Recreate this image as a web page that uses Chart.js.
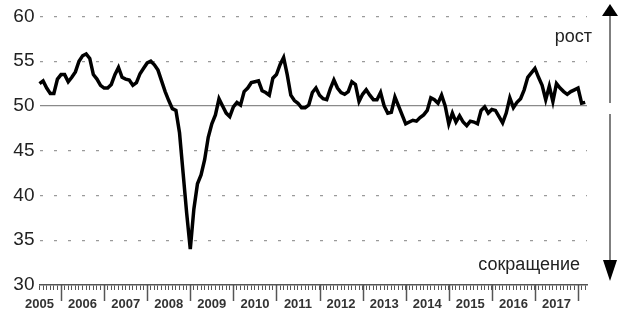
<!DOCTYPE html>
<html>
<head>
<meta charset="utf-8">
<script src="https://cdn.jsdelivr.net/npm/chart.js@4.4.1/dist/chart.umd.min.js"></script>
<style>
  html, body { margin: 0; padding: 0; background: #fff; }
</style>
</head>
<body>
<canvas id="pmiChart" width="640" height="322"></canvas>
<script>
// months are counted from Jan 2006 = 0, so the series starts in Jul 2005
const firstMonth = -6
const years = ['2005', '2006', '2007', '2008', '2009', '2010', '2011', '2012', '2013', '2014', '2015', '2016', '2017']
const yTicks = [30, 35, 40, 45, 50, 55, 60]
const pmi = [
  52.5, 52.8, 52.0, 51.4, 51.4, 53.0,                                     // 2005 H2
  53.5, 53.5, 52.7, 53.2, 53.8, 55.0, 55.6, 55.8, 55.3, 53.5, 53.0, 52.3, // 2006
  52.0, 52.0, 52.4, 53.5, 54.3, 53.2, 53.0, 52.9, 52.3, 52.6, 53.6, 54.2, // 2007
  54.8, 55.0, 54.6, 54.0, 52.8, 51.6, 50.6, 49.7, 49.5, 47.0, 42.5, 38.0, // 2008
  34.0, 38.5, 41.3, 42.3, 44.0, 46.5, 48.0, 49.0, 50.8, 50.0, 49.2, 48.8, // 2009
  49.9, 50.4, 50.1, 51.6, 52.0, 52.6, 52.7, 52.8, 51.7, 51.5, 51.2, 53.1, // 2010
  53.5, 54.6, 55.4, 53.5, 51.2, 50.6, 50.3, 49.8, 49.8, 50.1, 51.5, 52.0, // 2011
  51.2, 50.8, 50.7, 51.9, 52.9, 52.0, 51.5, 51.3, 51.6, 52.7, 52.4, 50.5, // 2012
  51.3, 51.8, 51.2, 50.7, 50.7, 51.5, 50.0, 49.2, 49.3, 51.0, 50.0, 49.0, // 2013
  48.0, 48.2, 48.4, 48.3, 48.7, 49.0, 49.5, 50.9, 50.7, 50.3, 51.2, 50.0, // 2014
  48.0, 49.2, 48.2, 48.9, 48.2, 47.8, 48.3, 48.2, 48.0, 49.5, 49.9, 49.2, // 2015
  49.6, 49.5, 48.8, 48.1, 49.2, 50.9, 49.8, 50.4, 50.8, 51.8, 53.2, 53.7, // 2016
  54.2, 53.2, 52.3, 50.7, 52.2, 50.5, 52.5, 52.0, 51.6, 51.3, 51.6, 51.8, // 2017
  52.0, 50.3, 50.4                                                         // 2018
]

const FONT = "'Liberation Sans', Arial, sans-serif"

// long ticks at the year boundaries (Jan of each year after the first)
const yearTicks = {
  id: 'yearTicks',
  afterDraw (chart) {
    const { ctx, chartArea, scales: { x } } = chart
    ctx.save()
    ctx.strokeStyle = '#555'
    ctx.lineWidth = 1.5
    for (let i = 1; i <= years.length; i++) {
      const px = Math.round(x.getPixelForValue(firstMonth + 6 + (i - 1) * 12)) + 0.5
      ctx.beginPath()
      ctx.moveTo(px, chartArea.bottom)
      ctx.lineTo(px, chartArea.bottom + 16)
      ctx.stroke()
    }
    ctx.restore()
  }
}

// growth / contraction arrows on the right
const arrows = {
  id: 'arrows',
  afterDraw (chart) {
    const { ctx, scales: { y } } = chart
    const ax = 610
    const mid = y.getPixelForValue(50)
    ctx.save()
    ctx.strokeStyle = '#555'
    ctx.lineWidth = 1.5
    ctx.beginPath()
    ctx.moveTo(ax, 14)
    ctx.lineTo(ax, mid - 3)
    ctx.moveTo(ax, mid + 8)
    ctx.lineTo(ax, 262)
    ctx.stroke()

    ctx.fillStyle = '#000'
    ctx.beginPath()
    ctx.moveTo(ax, 4)
    ctx.lineTo(ax + 8, 16)
    ctx.lineTo(ax - 8, 16)
    ctx.closePath()
    ctx.fill()
    ctx.beginPath()
    ctx.moveTo(ax - 7, 260)
    ctx.lineTo(ax + 7, 260)
    ctx.lineTo(ax, 281)
    ctx.closePath()
    ctx.fill()

    ctx.font = '18px ' + FONT
    ctx.fillStyle = '#222'
    ctx.textAlign = 'right'
    ctx.textBaseline = 'middle'
    ctx.fillText('рост', 592, 37)
    ctx.fillText('сокращение', 580, 265)
    ctx.restore()
  }
}

new Chart(document.getElementById('pmiChart'), {
  type: 'line',
  plugins: [yearTicks, arrows],
  data: {
    datasets: [
      {
        data: pmi.map((v, i) => ({ x: firstMonth + i, y: v })),
        borderColor: '#000',
        borderWidth: 3.5,
        pointRadius: 0,
        tension: 0,
        clip: false
      }
    ]
  },
  options: {
    responsive: false,
    animation: false,
    layout: { padding: { top: 16, right: 53, left: 0, bottom: 0 } },
    plugins: { legend: { display: false }, tooltip: { enabled: false } },
    scales: {
      x: {
        type: 'linear',
        min: firstMonth,
        max: 146.5,
        afterBuildTicks (scale) {
          const ticks = []
          for (let m = firstMonth; m <= 146; m++) ticks.push({ value: m })
          scale.ticks = ticks
        },
        afterFit (scale) { scale.height = 37 },
        ticks: {
          autoSkip: false,
          maxRotation: 0,
          minRotation: 0,
          padding: 7,
          color: '#333',
          font: { family: FONT, size: 13, weight: 'bold' },
          callback (value) {
            const k = value - firstMonth
            return k % 12 === 0 ? years[k / 12] : ''
          }
        },
        grid: { drawOnChartArea: false, tickLength: 5, tickColor: '#555', tickWidth: 1 },
        border: { display: true, color: '#555', width: 1.5 }
      },
      y: {
        min: yTicks[0],
        max: yTicks[yTicks.length - 1],
        afterBuildTicks (scale) { scale.ticks = yTicks.map(v => ({ value: v })) },
        afterFit (scale) { scale.width = 39.5 },
        ticks: {
          padding: 5,
          color: '#222',
          font: { family: FONT, size: 19 }
        },
        grid: {
          drawTicks: false,
          color: ctx => ctx.tick.value === 30 ? 'rgba(0,0,0,0)' : (ctx.tick.value === 50 ? '#8a8a8a' : '#9a9a9a'),
          lineWidth: 1.2
        },
        border: {
          display: false,
          dash: ctx => ctx.tick && ctx.tick.value === 50 ? [] : [3, 11]
        }
      }
    }
  }
})
</script>
</body>
</html>
